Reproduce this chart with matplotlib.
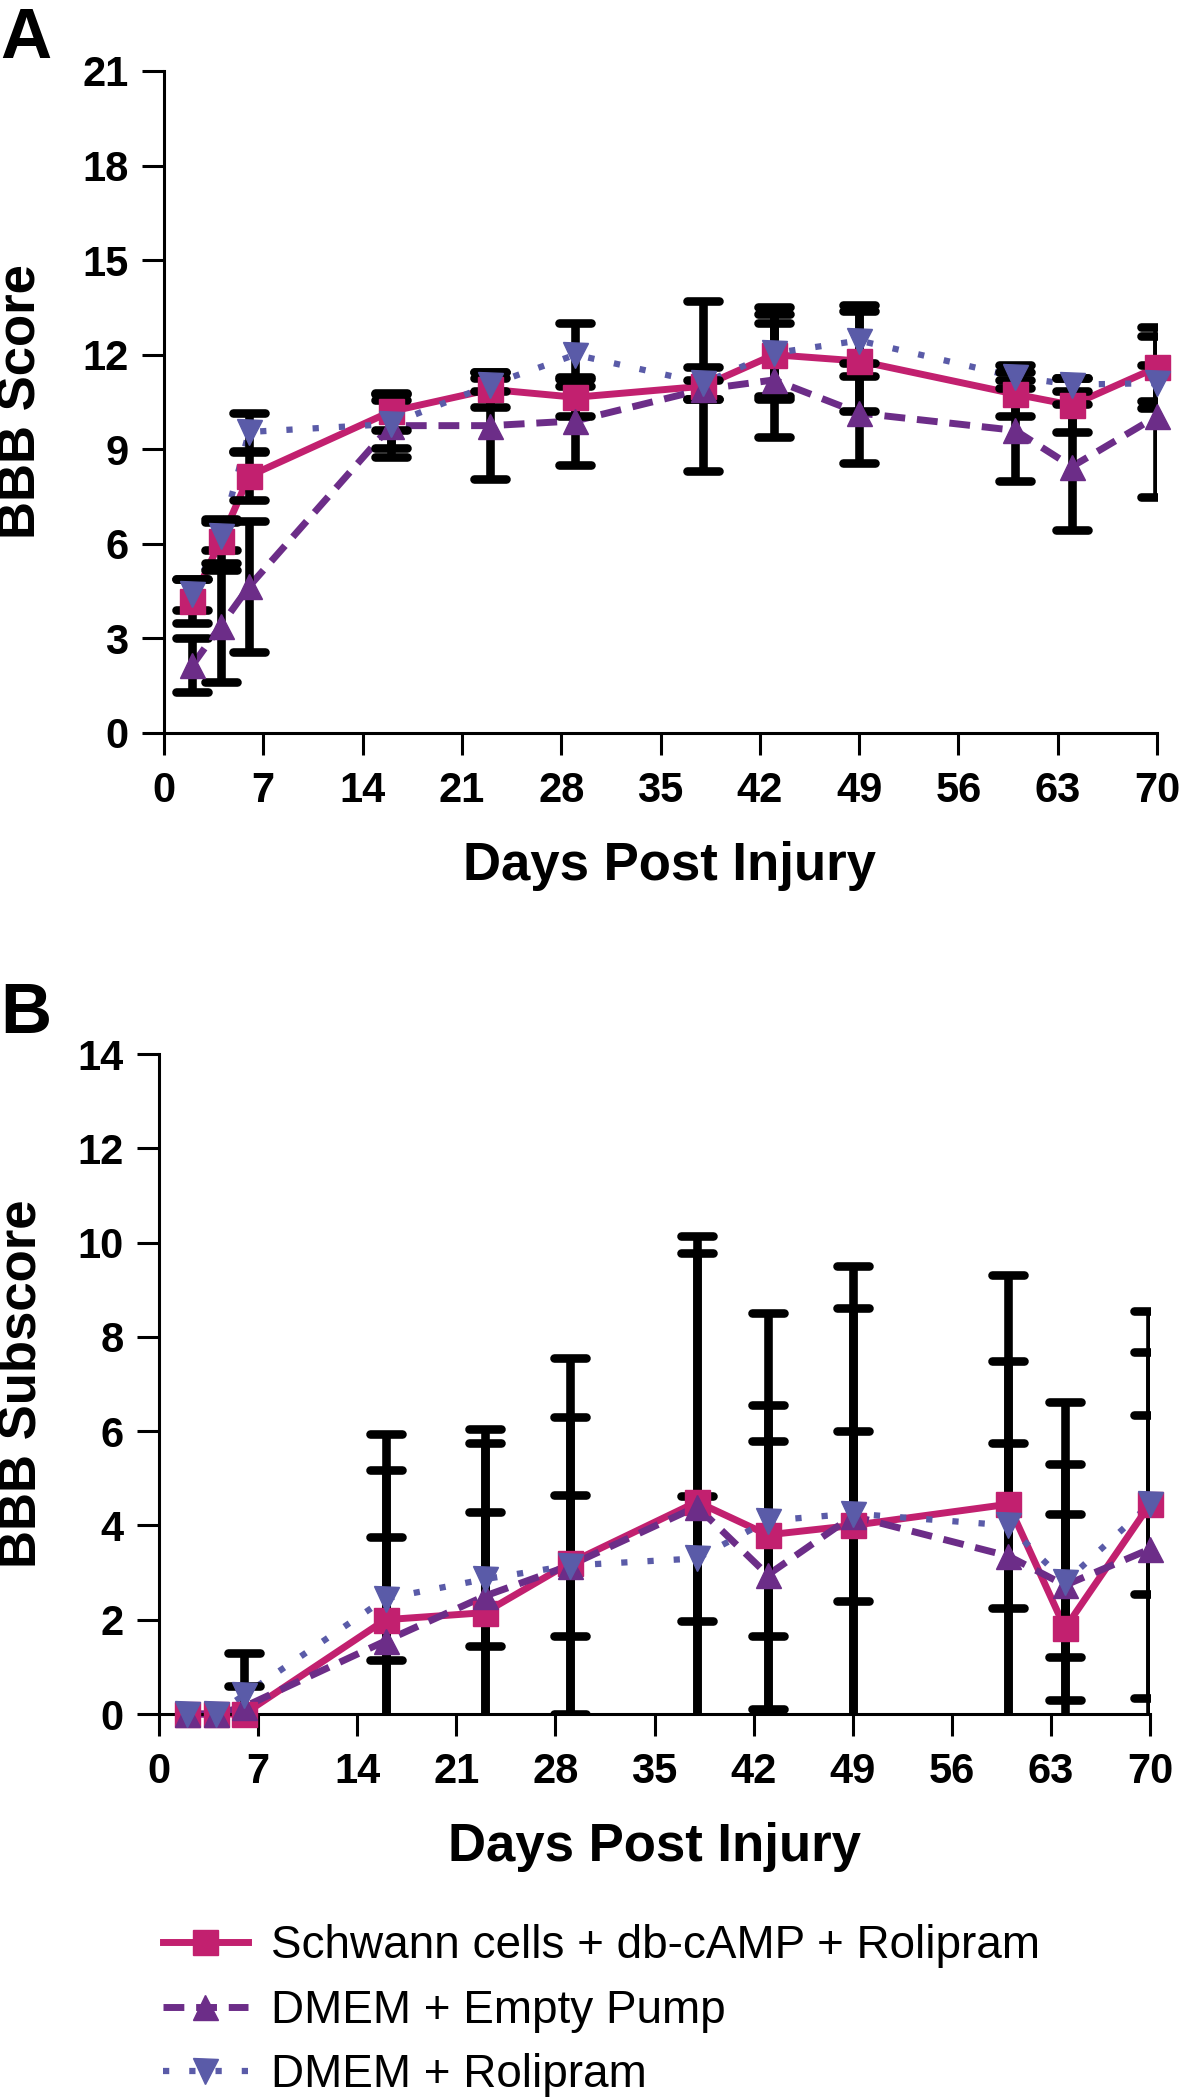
import numpy as np
import matplotlib
matplotlib.use("Agg")
import matplotlib.pyplot as plt
from matplotlib.lines import Line2D
from matplotlib.markers import MarkerStyle

plt.rcParams['font.family'] = ['Liberation Sans', 'DejaVu Sans']

# ---------------- data ----------------
days = [2, 4, 6, 16, 23, 29, 38, 43, 49, 60, 64, 70]
x_ticks = [0, 7, 14, 21, 28, 35, 42, 49, 56, 63, 70]
series_names = ["Schwann cells + db-cAMP + Rolipram", "DMEM + Empty Pump", "DMEM + Rolipram"]

# Panel A: BBB score (mean, SEM)
bbb_schwann = [4.2, 6.1, 8.15, 10.2, 10.9, 10.65, 11.0, 12.0, 11.8, 10.75, 10.4, 11.6]
bbb_schwann_err = [0.7, 0.7, 0.75, 0.6, 0.55, 0.58, 2.7, 1.3, 1.6, 0.7, 0.85, 1.28]
bbb_empty = [2.15, 3.4, 4.65, 9.75, 9.75, 9.9, 10.9, 11.2, 10.15, 9.6, 8.45, 10.05]
bbb_empty_err = [0.85, 1.78, 2.07, 1.0, 1.7, 1.4, 0.3, 1.8, 1.6, 1.6, 2.0, 2.55]
bbb_roli = [4.4, 6.25, 9.55, 9.8, 11.05, 12.0, 11.1, 12.05, 12.45, 11.3, 11.05, 11.1]
bbb_roli_err = [0.5, 0.45, 0.6, 0.75, 0.2, 1.0, 0.5, 1.45, 1.13, 0.37, 0.2, 0.57]

# Panel B: BBB subscore (mean, SEM)
sub_schwann = [0, 0, 0, 2.0, 2.15, 3.2, 4.5, 3.8, 4.0, 4.45, 1.82, 4.45]
sub_schwann_err = [0, 0, 0, 3.93, 3.9, 4.35, 5.63, 4.7, 4.62, 4.87, 4.8, 4.1]
sub_empty = [0, 0, 0.15, 1.55, 2.5, 3.15, 4.4, 2.95, 4.2, 3.35, 2.73, 3.5]
sub_empty_err = [0, 0, 0.45, 3.62, 3.25, 3.15, 5.37, 2.85, 1.8, 4.13, 1.52, 4.17]
sub_roli = [0, 0, 0.4, 2.45, 2.86, 3.15, 3.3, 4.1, 4.25, 4.0, 2.8, 4.45]
sub_roli_err = [0, 0, 0.9, 1.3, 1.42, 1.5, 1.32, 2.45, 5.25, 1.75, 2.5, 1.9]

# ---------------- style ----------------
W, H = 1183, 2100
C_SCH = "#C2206F"
C_EMP = "#6C2D88"
C_ROL = "#5A5BA8"
styles = [
    dict(color=C_SCH, marker='s', ls='-', lw=5.0),
    dict(color=C_EMP, marker='^', ls=(0, (3, 1.7)), lw=5.0),
    dict(color=C_ROL, marker='v', ls=(0, (1, 3.2)), lw=4.5),
]
MS = 18

fig = plt.figure(figsize=(W / 100, H / 100), dpi=100)
axA = fig.add_axes([164 / W, 1 - 733 / H, (1157 - 164) / W, (733 - 71) / H])
axB = fig.add_axes([159 / W, 1 - 1714 / H, (1150 - 159) / W, (1714 - 1054) / H])


def draw(ax, means, errs, ymax, ystep):
    x = np.array(days, dtype=float)
    for i, (m, e) in enumerate(zip(means, errs)):
        m = np.array(m, dtype=float)
        e = np.array(e, dtype=float)
        e = np.where(e > 0, e, np.nan)
        st = styles[i]
        eb = ax.errorbar(x, m, yerr=e, fmt='none', ecolor='black', elinewidth=6.2,
                         capsize=11.5, capthick=6.2, zorder=3 + i * 0.1)
        for cl in eb[1]:
            cl.set_marker(MarkerStyle('_', capstyle='round'))
        ax.plot(x, m, color=st['color'], ls=st['ls'], lw=st['lw'],
                clip_on=False, zorder=2 + i * 0.1, dash_capstyle='butt')
        ax.plot(x, m, color=st['color'], marker=st['marker'], ls='none',
                ms=MS, mec=st['color'], clip_on=False, zorder=4 + i * 0.1)
    ax.set_xlim(0, 70)
    ax.set_ylim(0, ymax)
    ax.set_xticks(x_ticks)
    ax.set_yticks(np.arange(0, ymax + 0.1, ystep))
    for s in ['top', 'right']:
        ax.spines[s].set_visible(False)
    for s in ['left', 'bottom']:
        ax.spines[s].set_linewidth(2.2)
    ax.tick_params(axis='both', length=15.5, width=2.2, labelsize=30)
    ax.tick_params(axis='y', pad=10)
    ax.tick_params(axis='x', pad=12)
    for lab in ax.get_xticklabels() + ax.get_yticklabels():
        lab.set_fontweight('bold')


draw(axA, [bbb_schwann, bbb_empty, bbb_roli],
     [bbb_schwann_err, bbb_empty_err, bbb_roli_err], 21, 3)
draw(axB, [sub_schwann, sub_empty, sub_roli],
     [sub_schwann_err, sub_empty_err, sub_roli_err], 14, 2)

# axis titles
fig.text(22 / W, 1 - 402 / H, "BBB Score", rotation=90, ha='center', va='center',
         fontsize=38, fontweight='bold')
fig.text(22 / W, 1 - 1384 / H, "BBB Subscore", rotation=90, ha='center', va='center',
         fontsize=38, fontweight='bold')
fig.text(669 / W, 1 - 880 / H, "Days Post Injury", ha='center', va='baseline',
         fontsize=38, fontweight='bold')
fig.text(655 / W, 1 - 1861 / H, "Days Post Injury", ha='center', va='baseline',
         fontsize=38, fontweight='bold')

# panel letters
fig.text(0.0, 1 - 58 / H, "A", ha='left', va='baseline', fontsize=51, fontweight='bold')
fig.text(0.0, 1 - 1033 / H, "B", ha='left', va='baseline', fontsize=51, fontweight='bold')

# legend
handles = []
for st in styles:
    handles.append(Line2D([0], [0], color=st['color'], ls=st['ls'], lw=st['lw'],
                          marker=st['marker'], ms=MS, mec=st['color']))
fig.legend(handles, series_names, loc='upper left',
           bbox_to_anchor=(163 / W, 1 - 1924 / H), frameon=False,
           fontsize=33, handlelength=1.85, handletextpad=0.5,
           labelspacing=0.45, borderpad=0, borderaxespad=0)

fig.savefig("out.png", dpi=100)
